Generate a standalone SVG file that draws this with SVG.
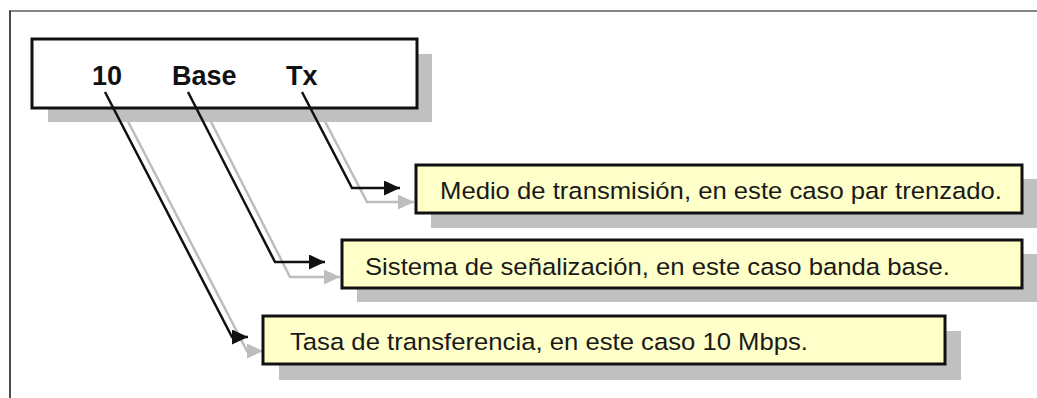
<svg xmlns="http://www.w3.org/2000/svg" width="1037" height="398" viewBox="0 0 1037 398">
<style>
.shadow{fill:#c0c0c0;}
.box{fill:#ffffc9;stroke:#111;stroke-width:3;}
.wbox{fill:#fff;stroke:#111;stroke-width:3;}
.lbl{font-family:"Liberation Sans",Arial,sans-serif;font-size:24.5px;fill:#1a1a1a;}
.big{font-family:"Liberation Sans",Arial,sans-serif;font-size:27px;font-weight:bold;fill:#111;}
.blk{fill:none;stroke:#111;stroke-width:2.5;}
.gry{fill:none;stroke:#bdbdbd;stroke-width:2.5;}
</style>
<defs>
<marker id="ab" markerUnits="userSpaceOnUse" markerWidth="17" markerHeight="15" refX="16" refY="7.5" orient="auto"><path d="M0,0 L16,7.5 L0,15 z" fill="#111"/></marker>
<marker id="ag" markerUnits="userSpaceOnUse" markerWidth="17" markerHeight="15" refX="16" refY="7.5" orient="auto"><path d="M0,0 L16,7.5 L0,15 z" fill="#bdbdbd"/></marker>
</defs>
<rect width="1037" height="398" fill="#fff"/>
<g id="frame">
<line x1="9" y1="11" x2="1037" y2="11" stroke="#858585" stroke-width="2"/>
<line x1="10" y1="11" x2="10" y2="398" stroke="#111" stroke-width="1.5"/>
</g>
<g id="connectors-shadow">
<polyline class="gry" points="120,106 247,351 263,351" marker-end="url(#ag)"/>
<polyline class="gry" points="203,106 290,277 340,277" marker-end="url(#ag)"/>
<polyline class="gry" points="317,106 367,202 414,202" marker-end="url(#ag)"/>
</g>
<g id="node-code">
<rect class="shadow" x="48" y="54" width="384" height="68"/>
<rect class="wbox" x="32" y="39" width="385" height="69"/>
<text class="big" x="92" y="85">10</text>
<text class="big" x="172" y="85">Base</text>
<text class="big" x="286" y="85">Tx</text>
</g>
<g id="node-medio">
<rect class="shadow" x="431" y="179" width="606" height="49"/>
<rect class="box" x="416" y="165" width="606" height="48"/>
<text class="lbl" x="440" y="199" textLength="562" lengthAdjust="spacingAndGlyphs">Medio de transmisión, en este caso par trenzado.</text>
</g>
<g id="node-sistema">
<rect class="shadow" x="357" y="254" width="680" height="48"/>
<rect class="box" x="342" y="240" width="680" height="48"/>
<text class="lbl" x="365" y="275" textLength="585" lengthAdjust="spacingAndGlyphs">Sistema de señalización, en este caso banda base.</text>
</g>
<g id="node-tasa">
<rect class="shadow" x="279" y="331" width="682" height="49"/>
<rect class="box" x="263" y="316" width="682" height="48"/>
<text class="lbl" x="290" y="350" textLength="518" lengthAdjust="spacingAndGlyphs">Tasa de transferencia, en este caso 10 Mbps.</text>
</g>
<g id="connectors">
<polyline class="blk" points="105,92 232,337 248,337" marker-end="url(#ab)"/>
<polyline class="blk" points="188,92 275,262 325,262" marker-end="url(#ab)"/>
<polyline class="blk" points="302,92 352,188 400,188" marker-end="url(#ab)"/>
</g>
</svg>
